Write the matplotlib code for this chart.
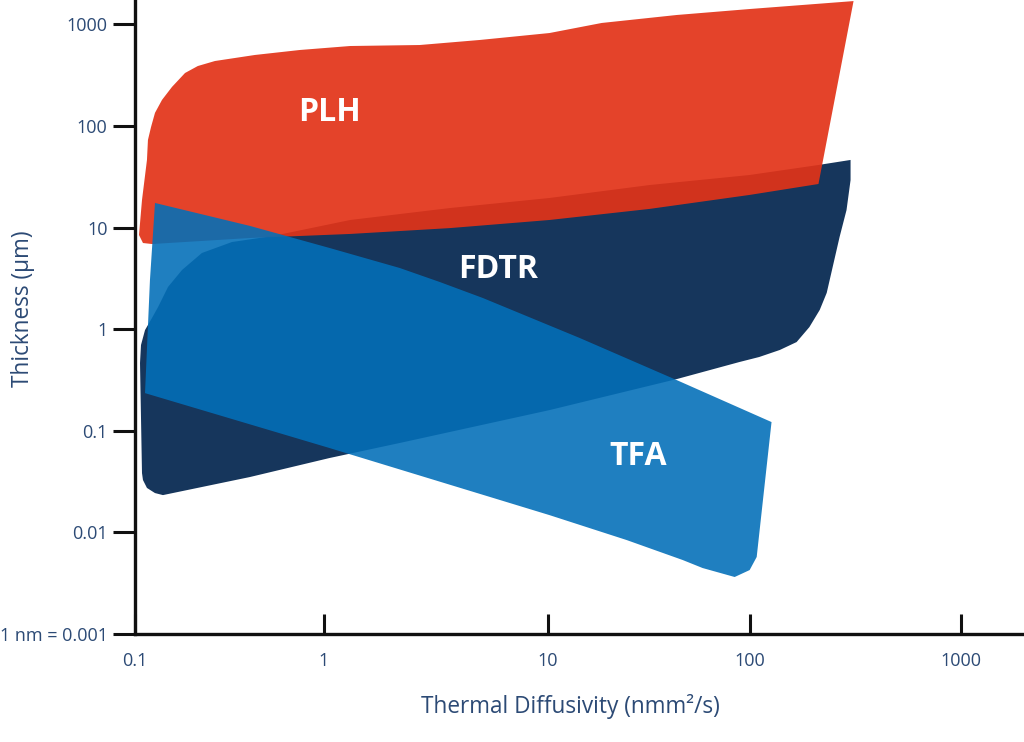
"""
Measurement technique ranges: thickness vs thermal diffusivity
"""
import matplotlib
matplotlib.use("Agg")
import matplotlib.pyplot as plt
from matplotlib.scale import FuncScale
from matplotlib.ticker import NullLocator
import numpy as np

plt.rcParams['font.family'] = ['Open Sans', 'DejaVu Sans']

# --- data (x: nmm^2/s, y: um) ---
plh_x = [0.123, 0.406, 1.31, 3.65, 10.2, 32.0, 100, 212, 311, 100, 43.5, 18.5,
         10.2, 4.97, 2.68, 1.31, 0.746, 0.431, 0.265, 0.215, 0.184, 0.157,
         0.139, 0.1276, 0.1216, 0.1171, 0.1157, 0.1089, 0.105, 0.1102]
plh_y = [6.90, 7.91, 8.67, 9.9, 11.9, 15.3, 21.0, 26.9, 1700, 1420, 1240, 1035,
         824, 704, 628, 614, 561, 501, 437, 390, 333, 243,
         181, 135, 98, 73, 46.4, 18.7, 8.47, 7.06]

fdtr_x = [0.1063, 0.1076, 0.113, 0.123, 0.1324, 0.1496, 0.1774, 0.226, 0.326,
          0.537, 1.31, 3.65, 10.2, 32.0, 100, 212, 301, 301, 288, 267, 232, 215,
          192, 167, 139, 111, 89.1, 43.5, 10.2, 2.18, 1.06, 0.406, 0.1406, 0.1276,
          0.1157, 0.1102, 0.1089]
fdtr_y = [0.465, 0.700, 0.982, 1.29, 1.65, 2.61, 3.83, 5.63, 7.22,
          8.28, 11.9, 15.6, 19.6, 26.3, 33.0, 41.4, 46.4, 29.4, 14.9, 8.09, 2.28, 1.55,
          1.05, 0.748, 0.625, 0.533, 0.476, 0.323, 0.160, 0.0759, 0.0540, 0.0351, 0.0233, 0.0244,
          0.0274, 0.0328, 0.0384]

tfa_x = [0.1276, 0.406, 1.06, 2.18, 3.29, 5.13, 14.4, 43.5, 127,
         108, 100, 84.3, 58.5, 46.6, 24.6, 10.2, 1.06, 0.113, 0.120]
tfa_y = [17.5, 10.4, 6.31, 4.01, 2.92, 2.03, 0.820, 0.316, 0.122,
         0.00573, 0.00426, 0.00364, 0.00446, 0.00535, 0.00841, 0.0148, 0.0677, 0.235, 3.05]

region_names = ['PLH', 'FDTR', 'TFA']
label_x = [1.06, 5.98, 27.9]
label_y = [135, 3.83, 0.0565]

x_ticks = [0.1, 1, 10, 100, 1000]
x_tick_labels = ['0.1', '1', '10', '100', '1000']
y_ticks = [0.001, 0.01, 0.1, 1, 10, 100, 1000]
y_tick_labels = ['1 nm = 0.001', '0.01', '0.1', '1', '10', '100', '1000']

# the original x axis is not evenly spaced per decade
x_scale_logs = [-2, -1, 0, 1, 2, 3, 4]
x_scale_pos = [-189, 0, 189, 413, 615, 826, 1037]

TEXT_COLOR = '#2c4a75'
NAVY = '#16365C'
RED = '#E23318'
BLUE = '#036FB8'


def forward(x):
    x = np.asarray(x, dtype=float)
    return np.interp(np.log10(np.clip(x, 1e-12, None)), x_scale_logs, x_scale_pos)


def inverse(p):
    return 10 ** np.interp(np.asarray(p, dtype=float), x_scale_pos, x_scale_logs)


fig = plt.figure(figsize=(10.24, 7.42), dpi=100)
ax = fig.add_axes([135 / 1024, 108 / 742, 889 / 1024, 634 / 742])

ax.set_xscale(FuncScale(ax.xaxis, (forward, inverse)))
ax.set_yscale('log')

# areas
ax.fill(fdtr_x, fdtr_y, color=NAVY, lw=0, zorder=1)
ax.fill(plh_x, plh_y, color=RED, alpha=0.92, lw=0, zorder=2)
ax.fill(tfa_x, tfa_y, color=BLUE, alpha=0.89, lw=0, zorder=3)

for name, lx, ly in zip(region_names, label_x, label_y):
    ax.text(lx, ly, name, color='white', fontsize=23, fontweight='bold',
            ha='center', va='center', zorder=5)

ax.set_xlim(0.1, 2000)
ax.set_ylim(0.001, 1742)

ax.set_xticks(x_ticks)
ax.set_xticklabels(x_tick_labels)
ax.set_yticks(y_ticks)
ax.set_yticklabels(y_tick_labels)
ax.xaxis.set_minor_locator(NullLocator())
ax.yaxis.set_minor_locator(NullLocator())

for side in ['top', 'right']:
    ax.spines[side].set_visible(False)
for side in ['left', 'bottom']:
    ax.spines[side].set_linewidth(2.4)
    ax.spines[side].set_color('#111111')

ax.tick_params(axis='y', direction='out', length=15.8, width=2.2, pad=4,
               labelsize=13, labelcolor=TEXT_COLOR, color='#111111')
ax.tick_params(axis='x', direction='in', length=14.4, width=2.2, pad=13,
               labelsize=13, labelcolor=TEXT_COLOR, color='#111111')

ax.set_xlabel('Thermal Diffusivity (nmm²/s)', fontsize=16.3, color=TEXT_COLOR)
ax.set_ylabel('Thickness (µm)', fontsize=16.3, color=TEXT_COLOR)
ax.xaxis.set_label_coords(0.490, -0.0946)
ax.yaxis.set_label_coords(-0.112, 0.513)

fig.savefig('out.png', dpi=100)
plt.close(fig)
